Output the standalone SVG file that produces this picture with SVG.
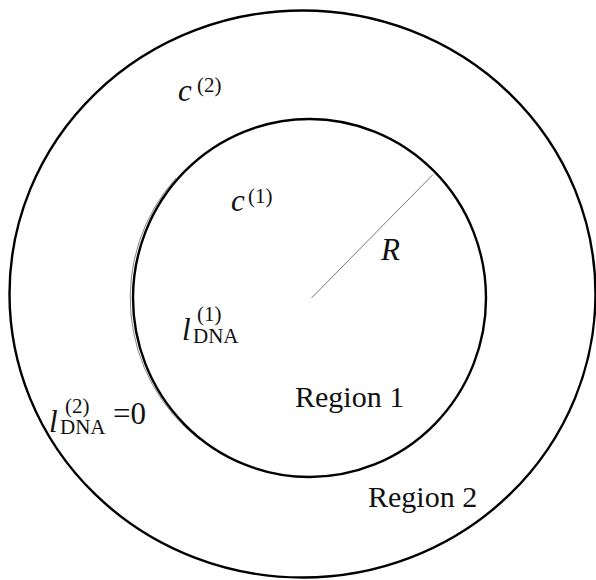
<svg xmlns="http://www.w3.org/2000/svg" width="596" height="580" viewBox="0 0 596 580">
<style>
.ring{fill:none;stroke:#000;stroke-width:2.4}
.t{font-family:"Liberation Serif","Times New Roman",serif;fill:#111}
.m{font-size:31px}
.i{font-style:italic}
.s{font-size:21px}
</style>
<rect width="596" height="580" fill="#fff"/>
<g id="region2">
<ellipse class="ring" cx="302.5" cy="294" rx="293" ry="283.5"/>
</g>
<g id="region1">
<path d="M 176 178 A 178 179 0 0 0 200 440" fill="none" stroke="#888" stroke-width="1"/>
<ellipse class="ring" cx="309.5" cy="298" rx="176.5" ry="179"/>
</g>
<g id="connectors">
<line x1="311.5" y1="298" x2="433" y2="174.5" stroke="#777" stroke-width="1"/>
</g>
<g id="label-R"><text class="t m i" x="381" y="260">R</text></g>
<g id="label-c2">
<text class="t m i" x="178" y="101">c</text>
<text class="t s" x="197" y="92">(2)</text>
</g>
<g id="label-c1">
<text class="t m i" x="231" y="211">c</text>
<text class="t s" x="248" y="203">(1)</text>
</g>
<g id="label-l1">
<text class="t m i" x="182" y="340">l</text>
<text class="t s" x="197" y="321">(1)</text>
<text class="t s" x="193" y="343">DNA</text>
</g>
<g id="label-l2">
<text class="t m i" x="49" y="432">l</text>
<text class="t s" x="65" y="413">(2)</text>
<text class="t s" x="60" y="434">DNA</text>
<text class="t m" x="113" y="424">=0</text>
</g>
<g id="label-region1"><text class="t" font-size="30" x="295" y="407">Region 1</text></g>
<g id="label-region2"><text class="t" font-size="30" x="368" y="507">Region 2</text></g>
</svg>
